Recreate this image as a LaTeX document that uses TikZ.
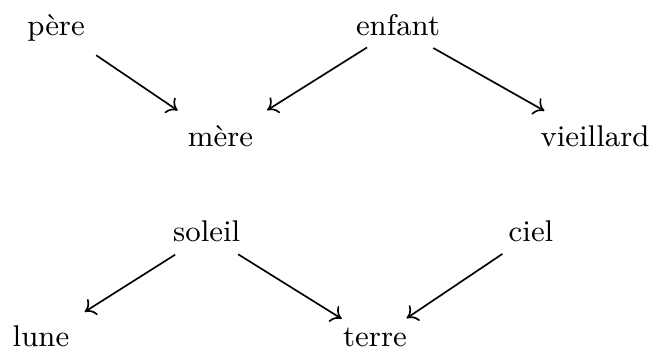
\documentclass[tikz,border=0pt]{standalone}
\usepackage{fontspec}
\usetikzlibrary{arrows.meta}
\tikzset{
  word/.style={inner sep=0pt, text height=6pt, text depth=1.8pt, anchor=center,
    font=\fontsize{9}{10}\selectfont},
  link/.style={line width=0.5pt, -{To[length=3pt,width=5.6pt]}}
}
\begin{document}
\begin{tikzpicture}[x=0.3pt,y=-0.3pt]
\useasboundingbox (0,0) rectangle (652,349);
\node[word] (pere) at (56,28) {père};
\node[word] (enfant) at (398,28) {enfant};
\node[word] (mere) at (220.5,139.5) {mère};
\node[word] (vieillard) at (595,139.5) {vieillard};
\node[word] (soleil) at (206.7,234.7) {soleil};
\node[word] (ciel) at (531,234.7) {ciel};
\node[word] (lune) at (41,339.5) {lune};
\node[word] (terre) at (375,339.5) {terre};
\draw[link, shorten <=14.55pt, shorten >=15.5pt] (pere.center) -- (mere.center);
\draw[link, shorten <=10.95pt, shorten >=16.53pt] (enfant.center) -- (mere.center);
\draw[link, shorten <=12.18pt, shorten >=17.43pt] (enfant.center) -- (vieillard.center);
\draw[link, shorten <=11.19pt, shorten >=15.48pt] (soleil.center) -- (lune.center);
\draw[link, shorten <=11.1pt, shorten >=11.76pt] (soleil.center) -- (terre.center);
\draw[link, shorten <=10.32pt, shorten >=11.46pt] (ciel.center) -- (terre.center);
\end{tikzpicture}
\end{document}
